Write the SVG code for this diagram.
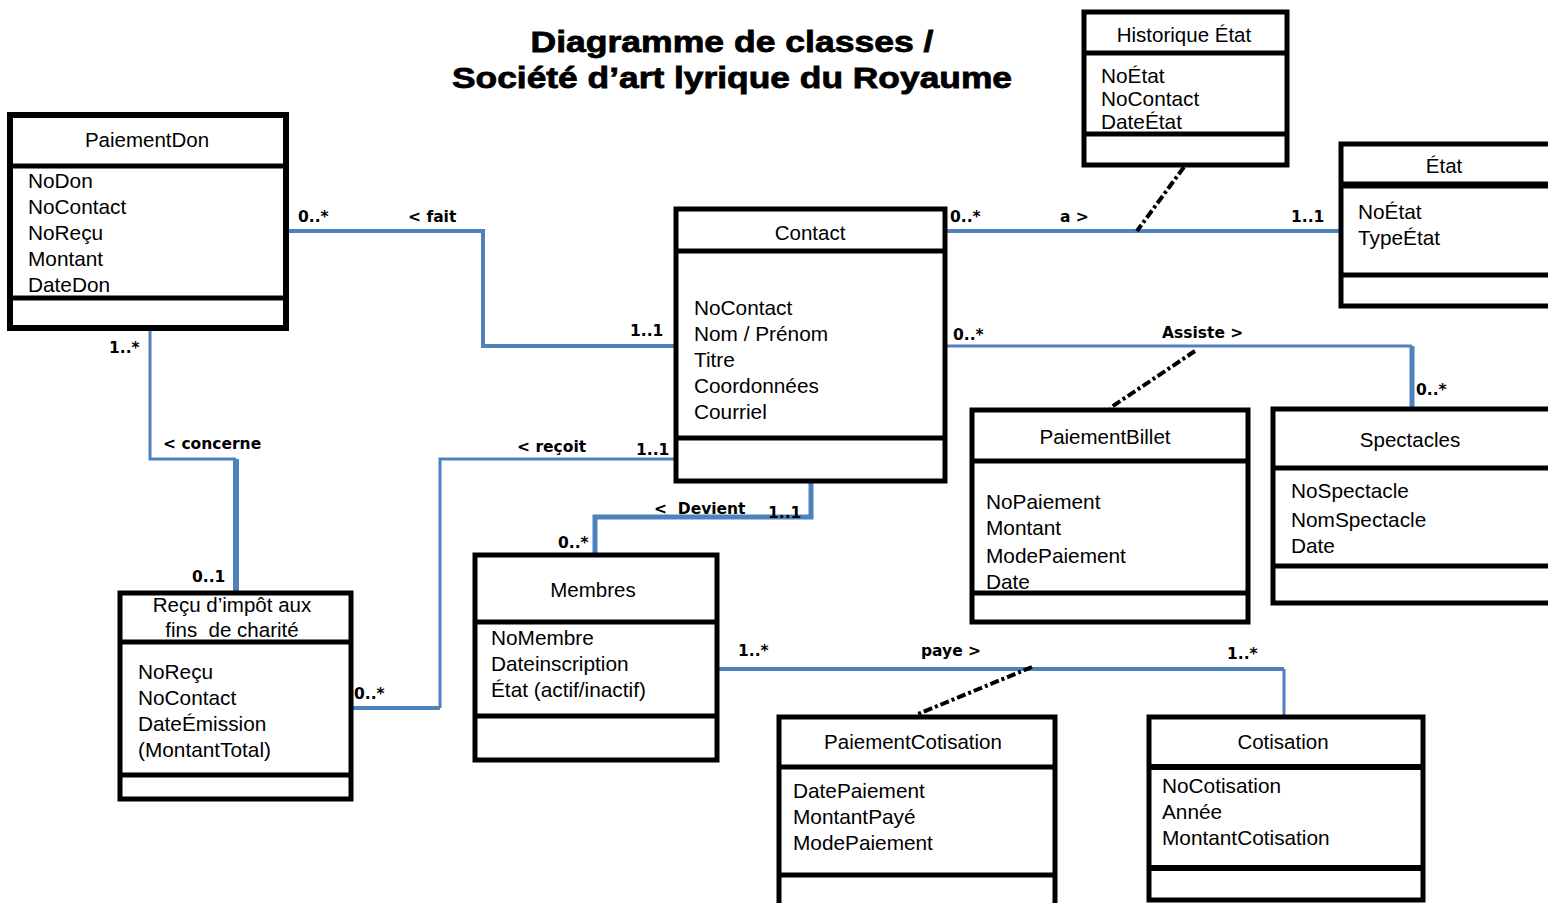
<svg xmlns="http://www.w3.org/2000/svg" width="1548" height="903" viewBox="0 0 1548 903">
<style>
.box{fill:#fff;stroke:#000;stroke-width:5}
.dv{stroke:#000;stroke-width:5}
.cn{font-family:"Liberation Sans",Arial,sans-serif;font-size:20.5px;text-anchor:middle;fill:#000}
.at{font-family:"Liberation Sans",Arial,sans-serif;font-size:20.8px;fill:#000}
.lbl{font-family:"DejaVu Sans",Verdana,sans-serif;font-weight:bold;font-size:15.5px;fill:#000}
.ttl{font-family:"Liberation Sans",Arial,sans-serif;font-weight:bold;font-size:30px;text-anchor:middle;fill:#000;stroke:#000;stroke-width:0.8}
.cx{fill:none;stroke:#4f81bd;stroke-width:4}
.dash{fill:none;stroke:#000;stroke-width:4;stroke-dasharray:9 3 3 3}
</style>
<rect width="1548" height="903" fill="#fff"/>
<g id="title">
<text class="ttl" x="732" y="52" textLength="403" lengthAdjust="spacingAndGlyphs">Diagramme de classes /</text>
<text class="ttl" x="732" y="88" textLength="560" lengthAdjust="spacingAndGlyphs">Société d’art lyrique du Royaume</text>
</g>
<g id="connectors">
<polyline class="cx" points="287,231 483,231 483,346 676,346"/>
<polyline class="cx" points="947,231 1340,231"/>
<polyline class="cx" points="947,346 1412,346" style="stroke-width:3"/>
<polyline class="cx" points="1412,346 1412,408" style="stroke-width:5"/>
<polyline class="cx" points="150,330 150,459 236,459" style="stroke-width:3"/>
<polyline class="cx" points="236,459 236,592" style="stroke-width:6"/>
<polyline class="cx" points="676,459 440,459 440,708" style="stroke-width:3"/>
<polyline class="cx" points="440,708 352,708"/>
<polyline class="cx" points="811,481 811,517 595,517 595,554" style="stroke-width:5"/>
<polyline class="cx" points="718,669 1284,669"/>
<polyline class="cx" points="1284,669 1284,716" style="stroke-width:3"/>
<line class="dash" x1="1184" y1="167" x2="1137" y2="231"/>
<line class="dash" x1="1195" y1="351" x2="1110" y2="408"/>
<line class="dash" x1="1032" y1="667" x2="918" y2="714"/>
<text class="lbl" x="298" y="222">0..*</text>
<text class="lbl" x="408" y="222">&lt; fait</text>
<text class="lbl" x="630" y="336">1..1</text>
<text class="lbl" x="950" y="222">0..*</text>
<text class="lbl" x="1060" y="222">a &gt;</text>
<text class="lbl" x="1291" y="222">1..1</text>
<text class="lbl" x="953" y="340">0..*</text>
<text class="lbl" x="1162" y="338">Assiste &gt;</text>
<text class="lbl" x="1416" y="395">0..*</text>
<text class="lbl" x="109" y="353">1..*</text>
<text class="lbl" x="163" y="449">&lt; concerne</text>
<text class="lbl" x="192" y="582">0..1</text>
<text class="lbl" x="517" y="452">&lt; reçoit</text>
<text class="lbl" x="636" y="455">1..1</text>
<text class="lbl" x="354" y="699">0..*</text>
<text class="lbl" x="654" y="514" xml:space="preserve">&lt;  Devient</text>
<text class="lbl" x="768" y="518">1..1</text>
<text class="lbl" x="558" y="548">0..*</text>
<text class="lbl" x="738" y="656">1..*</text>
<text class="lbl" x="921" y="656">paye &gt;</text>
<text class="lbl" x="1227" y="659">1..*</text>
</g>
<g id="PaiementDon">
<rect class="box" x="10" y="115" width="276" height="213" style="stroke-width:6"/>
<line class="dv" x1="10" y1="166" x2="286" y2="166"/>
<line class="dv" x1="10" y1="298" x2="286" y2="298"/>
<text class="cn" x="147" y="147">PaiementDon</text>
<text class="at" x="28" y="188">NoDon</text>
<text class="at" x="28" y="214">NoContact</text>
<text class="at" x="28" y="240">NoReçu</text>
<text class="at" x="28" y="266">Montant</text>
<text class="at" x="28" y="292">DateDon</text>
</g>
<g id="Contact">
<rect class="box" x="676" y="209" width="269" height="272"/>
<line class="dv" x1="676" y1="251" x2="945" y2="251"/>
<line class="dv" x1="676" y1="438" x2="945" y2="438"/>
<text class="cn" x="810" y="240">Contact</text>
<text class="at" x="694" y="315">NoContact</text>
<text class="at" x="694" y="341">Nom / Prénom</text>
<text class="at" x="694" y="367">Titre</text>
<text class="at" x="694" y="393">Coordonnées</text>
<text class="at" x="694" y="419">Courriel</text>
</g>
<g id="HistoriqueEtat">
<rect class="box" x="1084" y="12" width="203" height="153"/>
<line class="dv" x1="1084" y1="53" x2="1287" y2="53"/>
<line class="dv" x1="1084" y1="134" x2="1287" y2="134"/>
<text class="cn" x="1184" y="42">Historique État</text>
<text class="at" x="1101" y="83">NoÉtat</text>
<text class="at" x="1101" y="106">NoContact</text>
<text class="at" x="1101" y="129">DateÉtat</text>
</g>
<g id="Etat">
<rect class="box" x="1341" y="144" width="230" height="162"/>
<line class="dv" x1="1341" y1="185" x2="1571" y2="185" style="stroke-width:7"/>
<line class="dv" x1="1341" y1="275" x2="1571" y2="275"/>
<text class="cn" x="1444" y="173">État</text>
<text class="at" x="1358" y="219">NoÉtat</text>
<text class="at" x="1358" y="245">TypeÉtat</text>
</g>
<g id="PaiementBillet">
<rect class="box" x="972" y="410" width="276" height="212"/>
<line class="dv" x1="972" y1="461" x2="1248" y2="461"/>
<line class="dv" x1="972" y1="593" x2="1248" y2="593"/>
<text class="cn" x="1105" y="444">PaiementBillet</text>
<text class="at" x="986" y="509">NoPaiement</text>
<text class="at" x="986" y="535">Montant</text>
<text class="at" x="986" y="563">ModePaiement</text>
<text class="at" x="986" y="589">Date</text>
</g>
<g id="Spectacles">
<rect class="box" x="1273" y="409" width="300" height="194"/>
<line class="dv" x1="1273" y1="468" x2="1573" y2="468"/>
<line class="dv" x1="1273" y1="566" x2="1573" y2="566"/>
<text class="cn" x="1410" y="447">Spectacles</text>
<text class="at" x="1291" y="498">NoSpectacle</text>
<text class="at" x="1291" y="527">NomSpectacle</text>
<text class="at" x="1291" y="553">Date</text>
</g>
<g id="Recu">
<rect class="box" x="120" y="593" width="231" height="206"/>
<line class="dv" x1="120" y1="642" x2="351" y2="642"/>
<line class="dv" x1="120" y1="775" x2="351" y2="775"/>
<text class="cn" x="232" y="612">Reçu d’impôt aux</text>
<text class="cn" x="232" y="637" xml:space="preserve">fins  de charité</text>
<text class="at" x="138" y="679">NoReçu</text>
<text class="at" x="138" y="705">NoContact</text>
<text class="at" x="138" y="731">DateÉmission</text>
<text class="at" x="138" y="757">(MontantTotal)</text>
</g>
<g id="Membres">
<rect class="box" x="475" y="555" width="242" height="205"/>
<line class="dv" x1="475" y1="622" x2="717" y2="622"/>
<line class="dv" x1="475" y1="716" x2="717" y2="716"/>
<text class="cn" x="593" y="597">Membres</text>
<text class="at" x="491" y="645">NoMembre</text>
<text class="at" x="491" y="671">Dateinscription</text>
<text class="at" x="491" y="697">État (actif/inactif)</text>
</g>
<g id="PaiementCotisation">
<rect class="box" x="779" y="717" width="276" height="200"/>
<line class="dv" x1="779" y1="767" x2="1055" y2="767"/>
<line class="dv" x1="779" y1="875" x2="1055" y2="875"/>
<text class="cn" x="913" y="749">PaiementCotisation</text>
<text class="at" x="793" y="798">DatePaiement</text>
<text class="at" x="793" y="824">MontantPayé</text>
<text class="at" x="793" y="850">ModePaiement</text>
</g>
<g id="Cotisation">
<rect class="box" x="1149" y="717" width="274" height="183"/>
<line class="dv" x1="1149" y1="767" x2="1423" y2="767" style="stroke-width:6"/>
<line class="dv" x1="1149" y1="868" x2="1423" y2="868" style="stroke-width:6"/>
<text class="cn" x="1283" y="749">Cotisation</text>
<text class="at" x="1162" y="793">NoCotisation</text>
<text class="at" x="1162" y="819">Année</text>
<text class="at" x="1162" y="845">MontantCotisation</text>
</g>
</svg>
